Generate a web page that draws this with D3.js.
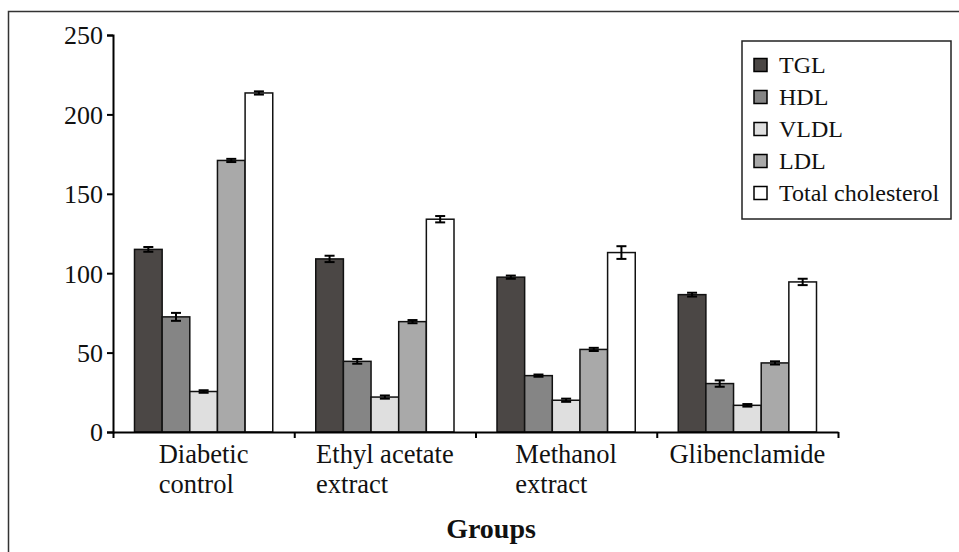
<!DOCTYPE html>
<html>
<head>
<meta charset="utf-8">
<script src="https://cdn.jsdelivr.net/npm/d3@7"></script>
<style>
  body { margin: 0; background: #fff; }
  svg text { font-family: "Liberation Serif", "Times New Roman", serif; fill: #111; }
</style>
</head>
<body>
<script>
// groups on the x axis (line breaks as in the picture)
var groups = ["Diabetic control", "Ethyl acetate extract", "Methanol extract", "Glibenclamide"];
var groupLines = [["Diabetic", "control"], ["Ethyl acetate", "extract"], ["Methanol", "extract"], ["Glibenclamide"]];
var series = ["TGL", "HDL", "VLDL", "LDL", "Total cholesterol"];
var colors = ["#4b4745", "#858585", "#dfdfdf", "#a9a9a9", "#ffffff"];

// values per series, one per group
var tgl   = [115, 109, 97.5, 86.5];
var hdl   = [72.5, 44.5, 35.5, 30.5];
var vldl  = [25.5, 22, 20, 16.8];
var ldl   = [171, 69.5, 52, 43.5];
var total = [213.5, 134, 113, 94.5];
// error (+/-) per series
var tglErr   = [1.5, 2, 1, 1.2];
var hdlErr   = [2.5, 1.5, 0.7, 2];
var vldlErr  = [0.8, 1, 1, 0.8];
var ldlErr   = [1, 1, 1, 1];
var totalErr = [1, 2, 4, 2];

var yTicks = [0, 50, 100, 150, 200, 250];

var values = [tgl, hdl, vldl, ldl, total];
var errors = [tglErr, hdlErr, vldlErr, ldlErr, totalErr];

var W = 959, H = 552;
var serif = "'Liberation Serif', 'Times New Roman', serif";
var svg = d3.select("body").append("svg").attr("width", W).attr("height", H);

// outer frame (right and bottom edges run off the picture)
svg.append("rect").attr("x", 8.5).attr("y", 11.5).attr("width", 1000).attr("height", 600)
  .attr("fill", "none").attr("stroke", "#333").attr("stroke-width", 1.5);

var plotLeft = 113, plotRight = 838, plotTop = 35, plotBottom = 432;

var y = d3.scaleLinear().domain([0, 250]).range([plotBottom, plotTop]);
var x0 = d3.scaleBand().domain(groups).range([plotLeft, plotRight]);
var x1 = d3.scaleBand().domain(series).range([21.5, x0.bandwidth() - 21.5]);
var xi = d3.scaleLinear().domain([0, groups.length]).range([plotLeft, plotRight]);

// data rows
var rows = [];
groups.forEach(function (g, gi) {
  series.forEach(function (s, si) {
    rows.push({ group: g, series: s, si: si, value: values[si][gi], err: errors[si][gi] });
  });
});

// bars
svg.append("g").selectAll("rect")
  .data(rows)
  .enter().append("rect")
  .attr("x", function (d) { return x0(d.group) + x1(d.series); })
  .attr("y", function (d) { return y(d.value); })
  .attr("width", x1.bandwidth())
  .attr("height", function (d) { return y(0) - y(d.value); })
  .attr("fill", function (d) { return colors[d.si]; })
  .attr("stroke", "#111")
  .attr("stroke-width", 1.5);

// error bars
var eb = svg.append("g").attr("stroke", "#000").attr("stroke-width", 2);
rows.forEach(function (d) {
  var cx = x0(d.group) + x1(d.series) + x1.bandwidth() / 2;
  eb.append("line").attr("x1", cx).attr("x2", cx)
    .attr("y1", y(d.value + d.err)).attr("y2", y(d.value - d.err));
  [d.value + d.err, d.value - d.err].forEach(function (v) {
    eb.append("line").attr("x1", cx - 5).attr("x2", cx + 5)
      .attr("y1", y(v)).attr("y2", y(v));
  });
});

// y axis
var yAxis = svg.append("g").attr("transform", "translate(" + plotLeft + ",0)")
  .call(d3.axisLeft(y).tickValues(yTicks).tickSize(6).tickPadding(4));
yAxis.attr("font-family", serif).attr("font-size", 26);
yAxis.selectAll("text").attr("fill", "#111").attr("dy", "0.34em");
yAxis.selectAll("path, line").attr("stroke", "#000").attr("stroke-width", 2);

// x axis with ticks at group boundaries
var xAxis = svg.append("g").attr("transform", "translate(0," + plotBottom + ")")
  .call(d3.axisBottom(xi).ticks(groups.length).tickSize(6).tickSizeOuter(0).tickFormat(""));
xAxis.selectAll("path, line").attr("stroke", "#000").attr("stroke-width", 2);

// group labels, left aligned lines, block centred on band
groupLines.forEach(function (lines, gi) {
  var t = svg.append("text").attr("font-family", serif).style("font-size", "26.5px");
  lines.forEach(function (l, li) {
    t.append("tspan").attr("y", 463 + li * 29.5).text(l);
  });
  var wMax = d3.max(t.selectAll("tspan").nodes(), function (n) { return n.getComputedTextLength(); });
  var cx = x0(groups[gi]) + x0.bandwidth() / 2;
  t.selectAll("tspan").attr("x", cx - wMax / 2);
});

// axis title
svg.append("text").attr("x", 491).attr("y", 538).attr("text-anchor", "middle")
  .style("font-size", "28px").style("font-weight", "bold").text("Groups");

// legend
var lg = svg.append("g");
lg.append("rect").attr("x", 742).attr("y", 41).attr("width", 209).attr("height", 178)
  .attr("fill", "#fff").attr("stroke", "#222").attr("stroke-width", 1.5);
series.forEach(function (s, i) {
  var cy = 65 + i * 32;
  lg.append("rect").attr("x", 754).attr("y", cy - 6.5).attr("width", 13).attr("height", 13)
    .attr("fill", colors[i]).attr("stroke", "#000").attr("stroke-width", 1.5);
  lg.append("text").attr("x", 779).attr("y", cy + 8).style("font-size", "24px").text(s);
});
</script>
</body>
</html>
